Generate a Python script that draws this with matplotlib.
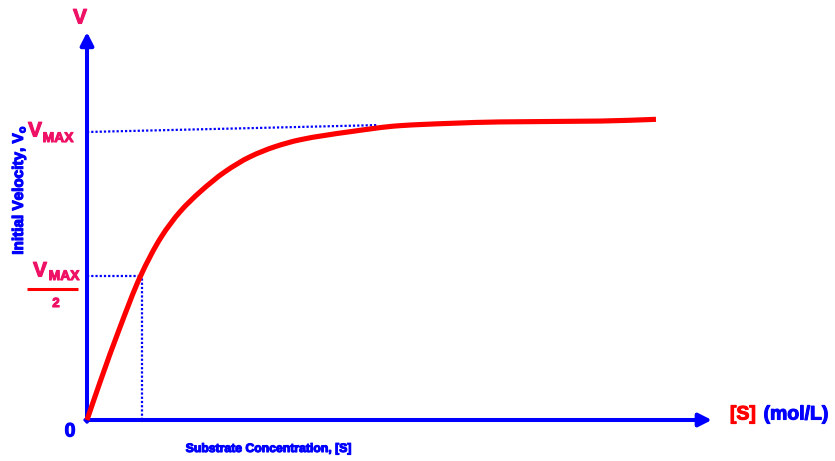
import matplotlib
matplotlib.use("Agg")
import numpy as np
import matplotlib.pyplot as plt
import matplotlib.patheffects as pe
from matplotlib import font_manager
from matplotlib.path import Path
from matplotlib.patches import PathPatch

# ---------------- data ----------------
substrate = [0, 0.236, 0.6, 0.964, 1.345, 1.691, 2.055, 2.509, 2.964, 3.418,
             3.873, 4.782, 5.691, 6.6, 7.509, 9.327, 10.345]
velocity = [0, 13.1, 32.2, 49.6, 63.4, 72.3, 79.2, 86.2, 91.4, 94.9,
            97.3, 100.1, 102.2, 103.0, 103.5, 103.8, 104.4]
vmax = 100.0
km = 1.0
vmax_guide_end = [5.29, 102.4]   # where the Vmax guide meets the curve
x_axis_end = 11.36
y_axis_end = 134.7

# ---------------- style ----------------
BLUE = "#0000ff"
RED = "#ff0000"
PINK = "#ee1166"

names = {f.name for f in font_manager.fontManager.ttflist}
FAM = [n for n in ["Liberation Sans Narrow", "Liberation Sans", "DejaVu Sans"] if n in names]

W, H = 835, 461
OX, OY = 87, 420          # pixel position of the origin
SX, SY = 55.0, 2.88       # pixels per data unit

fig = plt.figure(figsize=(W / 100, H / 100), dpi=100)
ax = fig.add_axes([0, 0, 1, 1])
ax.set_xlim(-OX / SX, (W - OX) / SX)
ax.set_ylim(-(H - OY) / SY, OY / SY)
ax.axis("off")


def P(px, py):
    """pixel position -> data coordinates (for label placement)"""
    return (px - OX) / SX, (OY - py) / SY


def smooth_path(xs, ys):
    """Monotone (Fritsch-Carlson) cubic Bezier path through the data points."""
    x = np.asarray(xs, float)
    y = np.asarray(ys, float)
    h = np.diff(x)
    d = np.diff(y) / h
    m = np.zeros_like(x)
    m[0], m[-1] = d[0], d[-1]
    for i in range(1, len(x) - 1):
        if d[i - 1] * d[i] <= 0:
            m[i] = 0.0
        else:
            w1 = 2 * h[i] + h[i - 1]
            w2 = h[i] + 2 * h[i - 1]
            m[i] = (w1 + w2) / (w1 / d[i - 1] + w2 / d[i])
    verts = [(x[0], y[0])]
    codes = [Path.MOVETO]
    for i in range(len(x) - 1):
        verts += [(x[i] + h[i] / 3, y[i] + m[i] * h[i] / 3),
                  (x[i + 1] - h[i] / 3, y[i + 1] - m[i + 1] * h[i] / 3),
                  (x[i + 1], y[i + 1])]
        codes += [Path.CURVE4] * 3
    return Path(verts, codes)


# guide lines
dot = (0, (1.0, 0.9))
ax.plot([0, vmax_guide_end[0]], [vmax, vmax_guide_end[1]], color=BLUE, lw=1.6,
        linestyle=dot, zorder=2)
ax.plot([0, km], [vmax / 2, vmax / 2], color=BLUE, lw=1.6, linestyle=dot, zorder=2)
ax.plot([km, km], [0, vmax / 2], color=BLUE, lw=1.6, linestyle=dot, zorder=2)

# curve
ax.add_patch(PathPatch(smooth_path(substrate, velocity), facecolor="none",
                       edgecolor=RED, lw=3.7, capstyle="butt", zorder=4))

# axes arrows
ap = dict(arrowstyle="-|>,head_length=0.55,head_width=0.28", lw=2.9, color=BLUE,
          shrinkA=0, shrinkB=0, mutation_scale=14)
ax.annotate("", xy=(x_axis_end, 0), xytext=(-0.03, 0), arrowprops=ap, zorder=3)
ax.annotate("", xy=(0, y_axis_end), xytext=(0, -0.6), arrowprops=ap, zorder=3)


def T(px, py, s, color, size, stroke=0.8, **kw):
    ax.text(*P(px, py), s, color=color, fontsize=size, ha="center", va="center",
            fontfamily=FAM, fontweight="bold",
            path_effects=[pe.withStroke(linewidth=stroke, foreground=color)], **kw)


T(80, 18, "V", PINK, 15)
T(70, 432, "0", BLUE, 14)

# Vmax label
T(35, 131, "V", PINK, 15)
T(58, 138, "MAX", PINK, 10)
# Vmax/2 label
T(40, 271, "V", PINK, 15)
T(64, 276, "MAX", PINK, 10)
x0, yl = P(27, 289)
x1, _ = P(78, 289)
ax.plot([x0, x1], [yl, yl], color=RED, lw=2.2, solid_capstyle="butt")
T(56, 304, "2", PINK, 9.5)

# axis unit label
T(743, 415, "[S]", RED, 14)
T(796, 415, "(mol/L)", BLUE, 14)

# axis titles
T(269, 449, "Substrate Concentration, [S]", BLUE, 8.8)
T(19, 190, r"Initial Velocity, V$_\mathregular{o}$", BLUE, 11, rotation=90)

fig.savefig("out.png", dpi=100)
